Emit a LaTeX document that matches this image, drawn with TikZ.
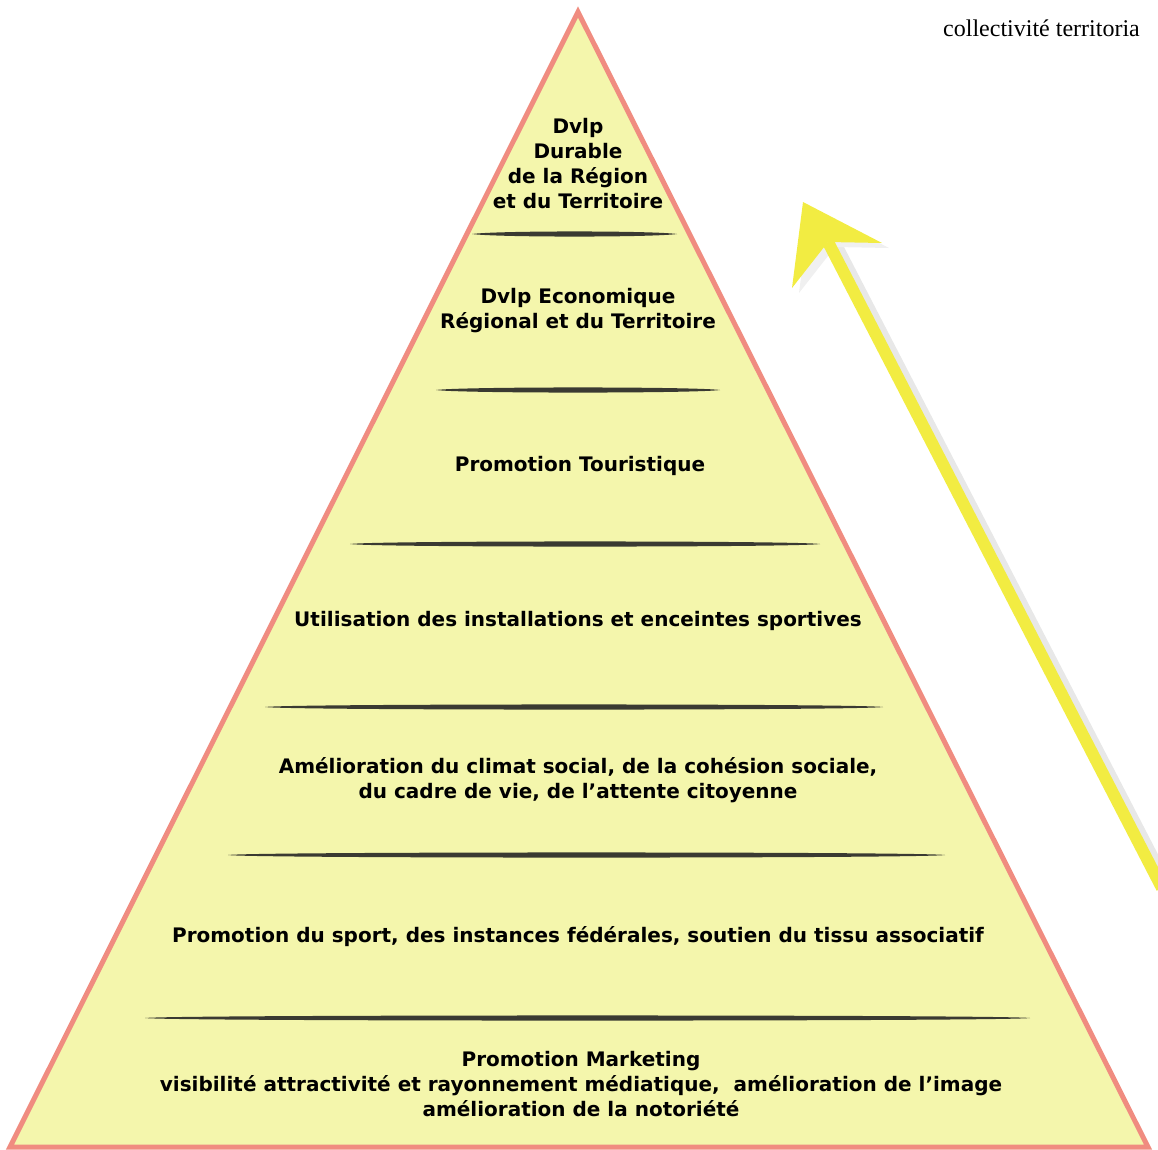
\documentclass[tikz,border=0pt]{standalone}
\usepackage{fontspec}
\setmainfont{DejaVu Sans}
\newfontfamily\capfont{Liberation Serif}
\usetikzlibrary{calc}
\definecolor{pyrfill}{RGB}{244,246,172}
\definecolor{pyredge}{RGB}{240,140,128}
\definecolor{arrowyel}{RGB}{242,236,66}
\definecolor{strokegray}{RGB}{58,58,50}
\newcommand{\divider}[3]{\fill[strokegray](#1,#3)..controls+(25,-3.4)and+(-25,-3.4)..(#2,#3)..controls+(-25,3.4)and+(25,3.4)..(#1,#3);}
\tikzset{
  level/.style={font=\bfseries\fontsize{20}{25}\selectfont,align=center,text=black},
}
\begin{document}
\begin{tikzpicture}[x=1pt,y=-1pt]
        \useasboundingbox(0,0)rectangle(1158,1149);
        % pyramide
        \draw[pyredge,line width=5pt,fill=pyrfill](578,12)--(1148,1147)--(10,1147)--cycle;
        \divider{472}{677}{234}
        \divider{436}{720}{390}
        \divider{350}{820}{544}
        \divider{265}{883}{707}
        \divider{228}{945}{855}
        \divider{145}{1030}{1018}
        % niveaux
        \node[level](durable)at(578,163.5){Dvlp\\Durable\\de la Région\\et du Territoire};
        \node[level](eco)at(578,310.5){Dvlp Economique\\Régional et du Territoire};
        \node[level](touris)at(580,466){Promotion Touristique};
        \node[level](install)at(578,621){Utilisation des installations et enceintes sportives};
        \node[level](climat)at(578,780.5){Amélioration du climat social, de la cohésion sociale,\\du cadre de vie, de l’attente citoyenne};
        \node[level](sport)at(578,937){Promotion du sport, des instances fédérales, soutien du tissu associatif};
        \node[level](marketing)at(581,1084.5){Promotion Marketing\\visibilité attractivité et rayonnement médiatique,\ \ amélioration de l’image\\amélioration de la notoriété};
        % fleche
        \coordinate(tip)at(803,202);
        \coordinate(tail)at(1162,888);
        \coordinate(notch)at(828,242);
        \draw[gray!18,line width=16pt](notch)++(7,5)--($(tail)+(7,5)$);
        \fill[gray!12]($(tip)+(7,5)$)--++(79,41)--++(-54,-1)--++(-36,46)--cycle;
        \draw[arrowyel,line width=12pt](notch)--(tail);
        \fill[arrowyel](tip)--(882,243)--(notch)--(792,288)--cycle;
        % titre
        \node[anchor=base west,inner sep=0pt,font=\capfont\fontsize{24}{28}\selectfont](titre)at(943,36){collectivité territoria};
    \end{tikzpicture}
\end{document}
